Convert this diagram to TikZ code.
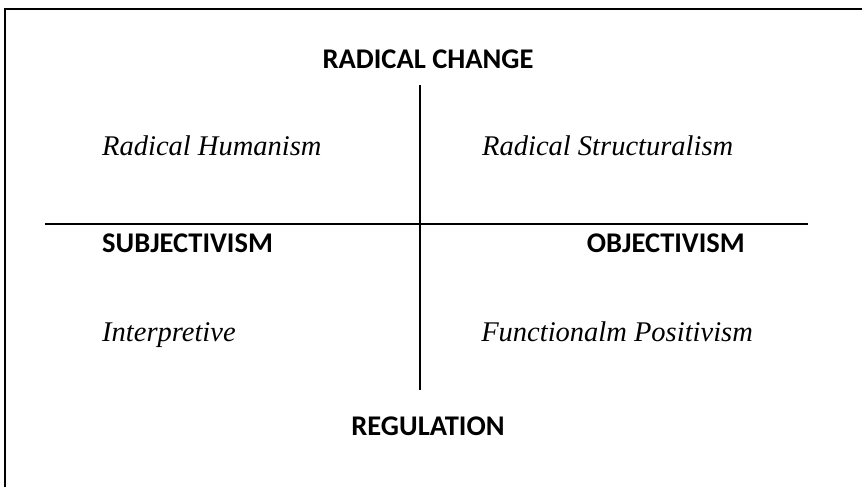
\documentclass[tikz,border=0pt]{standalone}
\usepackage{fontspec}
\setmainfont{Liberation Serif}
\newfontfamily\capsfont{Carlito}
\usepackage{tikz}
\usepackage{xcolor}

\begin{document}
\begin{tikzpicture}[x=1pt,y=-1pt,
    axis/.style={font=\capsfont\bfseries\fontsize{28.5}{30}\selectfont,inner sep=0pt},
    quad/.style={font=\itshape\fontsize{28.5}{30}\selectfont,inner sep=0pt}]
    \useasboundingbox (0,0) rectangle (862,487);
    \draw [line width=2pt] (5,487) -- (5,9) -- (862,9);

    \path (428,68) node [axis,anchor=base] (rc) {RADICAL CHANGE};
    \path (428,435) node [axis,anchor=base] (rg) {REGULATION};
    \path (102,252) node [axis,anchor=base west] (sb) {SUBJECTIVISM};
    \path (745,252) node [axis,anchor=base east] (ob) {OBJECTIVISM};

    \path (102,155) node [quad,anchor=base west] (rh) {Radical Humanism};
    \path (482,155) node [quad,anchor=base west] (rs) {Radical Structuralism};
    \path (102,341) node [quad,anchor=base west] (ip) {Interpretive};
    \path (753,341) node [quad,anchor=base east] (fp) {Functionalm Positivism};

    \path (420,85) coordinate (top) (420,390) coordinate (bot);
    \draw [line width=1.3pt] (top) -- (bot);
    \path (45,224) coordinate (lft) (808,224) coordinate (rgt);
    \draw [line width=1.3pt] (lft) -- (rgt);
\end{tikzpicture}
\end{document}
